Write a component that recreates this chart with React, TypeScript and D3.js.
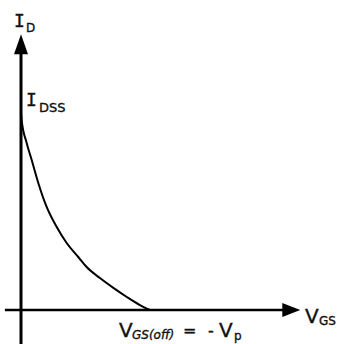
import React from "react";
import * as d3 from "d3";

// Transfer characteristic of a depletion JFET, normalised:
// vgs as a fraction of |Vp| (0 → VGS(off)), id as a fraction of IDSS.
const vgsValues = [0, 0.005, 0.044, 0.083, 0.134, 0.199, 0.277, 0.354, 0.444, 0.509, 0.612, 0.716, 0.82, 0.922, 1];
const idValues = [1, 0.964, 0.848, 0.761, 0.645, 0.523, 0.421, 0.34, 0.269, 0.218, 0.162, 0.112, 0.066, 0.025, 0];

// Axis extents in data units (arrows extend past the curve)
const xAxisExtent = [-0.125, 2.165];
const yAxisExtent = [-0.175, 1.4];

const W = 341;
const H = 344;

export default function App() {
  const x = d3.scaleLinear().domain([0, 1]).range([21, 150]);
  const y = d3.scaleLinear().domain([0, 1]).range([310, 113]);

  const points: [number, number][] = vgsValues.map((v, i) => [v, idValues[i]]);
  const line = d3
    .line<[number, number]>()
    .x((d) => x(d[0]))
    .y((d) => y(d[1]))
    .curve(d3.curveMonotoneX);

  const x0 = x(0);
  const y0 = y(0);
  const xEnd = x(xAxisExtent[1]);
  const yTop = y(yAxisExtent[1]);
  const arrowLen = 18;
  const arrowHalf = 7;

  const serifI = "'DejaVu Sans Mono', monospace";
  const sans = "'DejaVu Sans', sans-serif";

  return (
    <div style={{ position: "fixed", left: 0, top: 0 }}>
      <svg width={W} height={H} style={{ display: "block", background: "#fff" }}>
        {/* vertical axis (ID) */}
        <line
          x1={x0}
          x2={x0}
          y1={y(yAxisExtent[0])}
          y2={yTop + arrowLen - 2}
          stroke="#000"
          strokeWidth={3}
        />
        <path
          d={`M${x0},${yTop} L${x0 - arrowHalf},${yTop + arrowLen + 2} L${x0 + arrowHalf},${yTop + arrowLen + 2} Z`}
          fill="#000"
        />
        {/* horizontal axis (VGS) */}
        <line
          x1={x(xAxisExtent[0])}
          x2={xEnd - arrowLen + 2}
          y1={y0}
          y2={y0}
          stroke="#000"
          strokeWidth={2.5}
        />
        <path
          d={`M${xEnd},${y0} L${xEnd - arrowLen},${y0 - arrowHalf} L${xEnd - arrowLen},${y0 + arrowHalf} Z`}
          fill="#000"
        />
        {/* transfer curve */}
        <path d={line(points) ?? ""} fill="none" stroke="#000" strokeWidth={2} />

        {/* labels */}
        <g fill="#111" stroke="#111" strokeWidth={0.35}>
          <text x={14} y={27} fontFamily={serifI} fontSize={18}>I</text>
          <text x={26} y={32} fontFamily={sans} fontSize={12}>D</text>

          <text x={26} y={106} fontFamily={serifI} fontSize={18}>I</text>
          <text x={39} y={112} fontFamily={sans} fontSize={13}>DSS</text>

          <text x={119} y={337} fontFamily={sans} fontSize={20}>V</text>
          <text x={132} y={339} fontFamily={sans} fontSize={12} fontStyle="italic">GS(off)</text>
          <text x={183} y={336} fontFamily={sans} fontSize={16}>=</text>
          <text x={208} y={336} fontFamily={sans} fontSize={16}>-</text>
          <text x={219} y={337} fontFamily={sans} fontSize={20}>V</text>
          <text x={234} y={340} fontFamily={sans} fontSize={12}>p</text>

          <text x={305} y={323} fontFamily={sans} fontSize={20}>V</text>
          <text x={319} y={325} fontFamily={sans} fontSize={12}>GS</text>
        </g>
      </svg>
    </div>
  );
}
